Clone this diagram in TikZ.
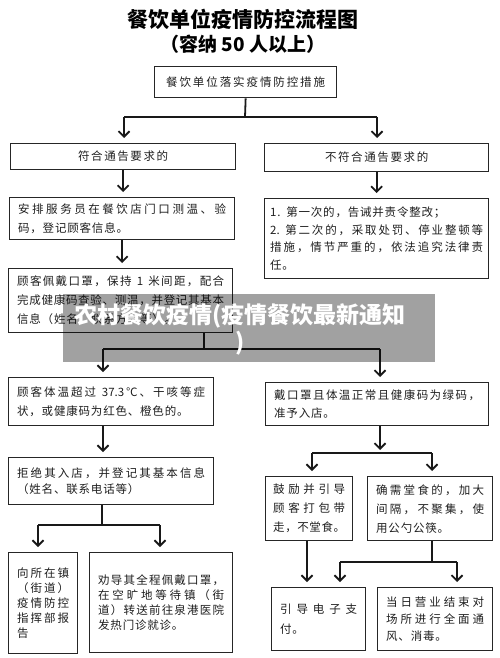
\documentclass[tikz,border=0pt]{standalone}
\usepackage{fontspec}
\usetikzlibrary{arrows.meta}
\newfontfamily\cjk{Noto Sans CJK SC}
\newfontfamily\cjkls[LetterSpace=7]{Noto Sans CJK SC}
\newfontfamily\cjkwide[LetterSpace=14]{Noto Sans CJK SC}
\makeatletter
\def\jl#1{\noindent\hbox to \hsize{\cjk\jl@a#1\jl@end}}
\def\jl@a#1{\ifx\jl@end#1\else#1\expandafter\jl@b\fi}
\def\jl@b#1{\ifx\jl@end#1\else\hfil#1\expandafter\jl@b\fi}
\def\jl@end{\jl@end@}
\makeatother
\tikzset{
  box/.style={draw=black!85, line width=1.3pt, fill=white, inner xsep=8.5pt, inner ysep=1pt,
    align=left, anchor=north west, text=black!88,
    font=\cjkls\fontsize{11.5}{18}\selectfont},
  cbox/.style={box, align=center, font=\cjkwide\fontsize{11.5}{18}\selectfont},
  link/.style={draw=black!90, line width=1.8pt},
  arr/.style={link, -{Straight Barb[length=5.5pt,width=11pt]}, shorten >=5pt},
}
\begin{document}
\begin{tikzpicture}[x=1pt,y=-1pt]
\fill[white] (0,0) rectangle (500,658);
\useasboundingbox (0,0) rectangle (500,658);

% titles
\node[font=\cjk\bfseries\fontsize{21}{24}\selectfont] (title) at (243,19) {餐饮单位疫情防控流程图};
\node[font=\cjk\bfseries\fontsize{19}{22}\selectfont] (subtitle) at (243,44) {（容纳 50 人以上）};

% boxes
\node[box, inner xsep=11.5pt, minimum width=182pt, minimum height=31pt, text width=159pt] (A) at (154,66) {\jl{餐饮单位落实疫情防控措施}};
\node[cbox, minimum width=225pt, minimum height=26pt, text width=208pt] (B) at (10,143) {符合通告要求的};
\node[cbox, minimum width=224pt, minimum height=28pt, text width=207pt] (C) at (264,143) {不符合通告要求的};
\node[box, minimum width=224pt, minimum height=42pt, text width=208pt, font=\cjkls\fontsize{11.5}{19}\selectfont] (D) at (9,197)
  {\jl{安排服务员在餐饮店门口测温、验}\\码，登记顾客信息。};
\node[box, inner xsep=4pt, minimum width=224pt, minimum height=80pt, text width=213pt, font=\cjkls\fontsize{11.5}{17.5}\selectfont] (E) at (264,198)
  {1. 第一次的，告诫并责令整改；\\\jl{{2.\ }第二次的，采取处罚、停业整顿等}\\\jl{措施，情节严重的，依法追究法律责}\\任。};
\node[box, minimum width=224pt, minimum height=64pt, text width=207pt, font=\cjkls\fontsize{11.5}{19}\selectfont] (F) at (8,268)
  {\jl{顾客佩戴口罩，保持{\ 1\ }米间距，配合}\\\jl{完成健康码查验、测温，并登记其基本}\\信息（姓名、联系方式等）。};
\node[box, minimum width=205pt, minimum height=48pt, text width=188pt, font=\cjkls\fontsize{11.5}{19}\selectfont] (G) at (8,377)
  {\jl{顾客体温超过{\ 37.3}℃、干咳等症}\\状，或健康码为红色、橙色的。};
\node[box, minimum width=223pt, minimum height=43pt, text width=206pt, font=\cjkls\fontsize{11.5}{17.5}\selectfont] (H) at (265,382)
  {\jl{戴口罩且体温正常且健康码为绿码，}\\准予入店。};
\node[box, minimum width=205pt, minimum height=47pt, text width=188pt, font=\cjkls\fontsize{11.5}{16.5}\selectfont] (I) at (8,457)
  {\jl{拒绝其入店，并登记其基本信息}\\（姓名、联系电话等）};
\node[box, inner xsep=7.5pt, minimum width=87pt, minimum height=64pt, text width=72pt, font=\cjkls\fontsize{11.5}{19}\selectfont] (J) at (265,476)
  {\jl{鼓励并引导}\\\jl{顾客打包带}\\\jl{走，不堂食。}};
\node[box, minimum width=125pt, minimum height=64pt, text width=108pt, font=\cjkls\fontsize{11.5}{19}\selectfont] (K) at (367,476)
  {\jl{确需堂食的，加大}\\\jl{间隔，不聚集，使}\\用公勺公筷。};
\node[box, minimum width=69pt, minimum height=101pt, text width=52pt, font=\cjkls\fontsize{11.5}{15}\selectfont] (L) at (8,552)
  {\jl{向所在镇}\\\jl{（街道）}\\\jl{疫情防控}\\\jl{指挥部报}\\告};
\node[box, minimum width=143pt, minimum height=100pt, text width=126pt, font=\cjkls\fontsize{11.5}{15}\selectfont] (M) at (89,552)
  {\jl{劝导其全程佩戴口罩，}\\\jl{在空旷地等待镇（街}\\\jl{道）转送前往泉港医院}\\发热门诊就诊。};
\node[box, minimum width=94pt, minimum height=63pt, text width=77pt, font=\cjkls\fontsize{11.5}{20}\selectfont] (N) at (271,587)
  {\jl{引导电子支}\\付。};
\node[box, minimum width=115pt, minimum height=63pt, text width=98pt, font=\cjkls\fontsize{11.5}{17}\selectfont] (O) at (377,587)
  {\jl{当日营业结束对}\\\jl{场所进行全面通}\\风、消毒。};

% junction coordinates
\coordinate (jA) at (245,117);
\coordinate (jAL) at (124,117);
\coordinate (jAR) at (377,117);
\coordinate (jF) at (204,349);
\coordinate (jFL) at (103,349);
\coordinate (jFR) at (380,349);
\coordinate (jI) at (102,525);
\coordinate (jIL) at (38,525);
\coordinate (jIR) at (160,525);
\coordinate (jH) at (380,453);
\coordinate (jHL) at (312,453);
\coordinate (jHR) at (432,453);
\coordinate (xJ) at (307,0);
\coordinate (jK) at (432,562);
\coordinate (jKL) at (340,562);
\coordinate (jKR) at (457,562);

% connectors
\draw[link] (A.south) -- (jA);
\draw[link] (jAL) -- (jAR);
\draw[arr] (jAL) -- (jAL |- B.north);
\draw[arr] (jAR) -- (jAR |- C.north);
\draw[arr] (B.south) -- (B.south |- D.north);
\draw[arr] (C.south) -- (C.south |- E.north);
\draw[arr] (D.south) -- (D.south |- F.north);
\draw[link] (jF |- F.south) -- (jF);
\draw[link] (jFL) -- (jFR);
\draw[arr] (jFL) -- (jFL |- G.north);
\draw[arr] (jFR) -- (jFR |- H.north);
\draw[arr] (jFL |- G.south) -- (jFL |- I.north);
\draw[link] (jI |- I.south) -- (jI);
\draw[link] (jIL) -- (jIR);
\draw[arr] (jIL) -- (jIL |- L.north);
\draw[arr] (jIR) -- (jIR |- M.north);
\draw[arr, shorten >=3pt] (jH |- H.south) -- (jH);
\draw[link] (jHL) -- (jHR);
\draw[arr] (jHL) -- (jHL |- J.north);
\draw[arr] (jHR) -- (jHR |- K.north);
\draw[arr] (xJ |- J.south) -- (xJ |- N.north);
\draw[link] (jK |- K.south) -- (jK);
\draw[link] (jKL) -- (jKR);
\draw[arr] (jKL) -- (jKL |- N.north);
\draw[arr] (jKR) -- (jKR |- O.north);

% watermark overlay
\fill[black, fill opacity=0.37] (63,294) rectangle (435,362);
\node[text=white, align=center, font=\cjk\bfseries\fontsize{23}{27}\selectfont] (wm) at (240,329)
  {农村餐饮疫情(疫情餐饮最新通知\\)};
\end{tikzpicture}
\end{document}
